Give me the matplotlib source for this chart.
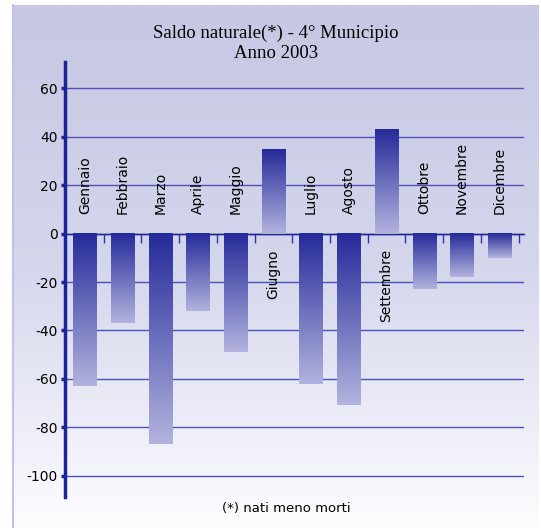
import numpy as np
import matplotlib
matplotlib.use('Agg')
import matplotlib.pyplot as plt
from matplotlib.colors import LinearSegmentedColormap

plt.rcParams['axes.unicode_minus'] = False

mesi = ['Gennaio', 'Febbraio', 'Marzo', 'Aprile', 'Maggio', 'Giugno',
        'Luglio', 'Agosto', 'Settembre', 'Ottobre', 'Novembre', 'Dicembre']
saldo = [-63, -37, -87, -32, -49, 35, -62, -71, 43, -23, -18, -10]
yticks = [60, 40, 20, 0, -20, -40, -60, -80, -100]

titolo = 'Saldo naturale(*) - 4° Municipio\nAnno 2003'
nota = '(*) nati meno morti'

blu = '#1a2398'
griglia = '#4a52b8'

fig = plt.figure(figsize=(5.41, 5.28), dpi=100)
fig.patch.set_facecolor('white')

# sfondo sfumato del riquadro
bg = fig.add_axes([13/541, 0, (539-13)/541, 1-5/528], zorder=-5)
bg_cmap = LinearSegmentedColormap.from_list('bg', ['#c6c8e4', '#d4d6ec', '#fdfdff'])
bg.imshow(np.linspace(0, 1, 256).reshape(-1, 1), cmap=bg_cmap, aspect='auto',
          extent=[0, 1, 0, 1], origin='upper')
bg.set_xlim(0, 1)
bg.set_ylim(0, 1)
for s in ['top', 'bottom', 'right']:
    bg.spines[s].set_visible(False)
bg.spines['left'].set_color('#bfc3e6')
bg.spines['left'].set_linewidth(1.5)
bg.set_xticks([])
bg.set_yticks([])

ax = fig.add_axes([64.5/541, 1-496.7/528, (523.8-64.5)/541, (496.7-62.3)/528])
ax.set_facecolor('none')

x = np.arange(len(mesi))
bars = ax.bar(x, saldo, width=0.62, color='none', edgecolor='none', zorder=3)

bar_cmap = LinearSegmentedColormap.from_list('bar', ['#252a9a', '#b2b3de'])
grad = np.linspace(0, 1, 256).reshape(-1, 1)
for p in bars:
    x0, y0 = p.get_x(), p.get_y()
    w, h = p.get_width(), p.get_height()
    ax.imshow(grad, cmap=bar_cmap, aspect='auto', origin='upper', zorder=3,
              extent=[x0, x0+w, min(y0, y0+h), max(y0, y0+h)])

for i, (m, v) in enumerate(zip(mesi, saldo)):
    if v < 0:
        ax.text(i, 8, m, rotation=90, ha='center', va='bottom', fontsize=10, zorder=4)
    else:
        ax.text(i, -6.5, m, rotation=90, ha='center', va='top', fontsize=10, zorder=4)

ax.set_xlim(-0.54, 11.64)
ax.set_ylim(-108.7, 70.8)

for t in yticks:
    c = '#1c2590' if t == 0 else griglia
    ax.axhline(t, color=c, lw=1, zorder=1)

ax.set_yticks(yticks)
ax.tick_params(axis='y', direction='out', length=3, width=2.5, color=blu,
               labelsize=10, pad=2)
ax.spines['left'].set_color(blu)
ax.spines['left'].set_linewidth(2.5)
ax.spines['top'].set_visible(False)
ax.spines['right'].set_visible(False)
ax.spines['bottom'].set_position(('data', 0))
ax.spines['bottom'].set_color('#1c2590')
ax.spines['bottom'].set_linewidth(1)
ax.set_xticks(np.arange(len(mesi)) + 0.5)
ax.set_xticklabels([])
ax.tick_params(axis='x', direction='out', length=6.5, width=1, color='#2a33a8')

fig.text(0.51, 0.918, titolo, ha='center', va='center', fontsize=13.5,
         family='Liberation Serif', linespacing=1.3)
fig.text(0.529, 0.036, nota, ha='center', va='center', fontsize=9.5)

fig.savefig('out.png', dpi=100)
